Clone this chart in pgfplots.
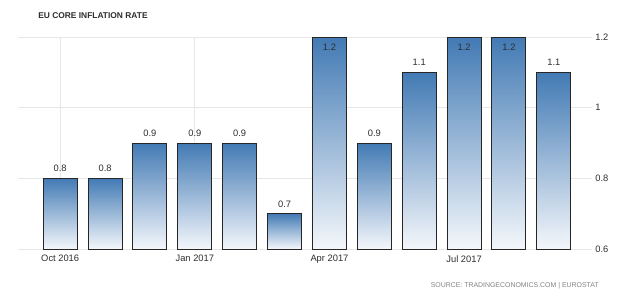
\documentclass[border=0pt]{standalone}
\usepackage{fontspec}
\setmainfont{Liberation Sans}
\usepackage{pgfplots}
\pgfplotsset{compat=1.18}
\definecolor{barblue}{RGB}{66,122,180}
\definecolor{barlight}{RGB}{244,247,251}
\definecolor{gridgray}{RGB}{230,230,230}
\definecolor{txt}{RGB}{45,45,45}
\definecolor{srcgray}{RGB}{130,130,130}
\pgfplotsset{
  mybar/.style={ybar, bar width=25.5pt, bar shift=0pt, draw=black!85, line width=0.75pt,
    top color=barblue, bottom color=barlight,
    nodes near coords={\pgfmathprintnumber[fixed,fixed zerofill,precision=1,assume math mode=true]{\pgfplotspointmeta}},
    point meta=y,
    every node near coord/.append style={font=\fontsize{7}{8}\selectfont, text=txt, inner sep=4.5pt},
  },
  topbar/.style={mybar, every node near coord/.append style={anchor=north}},
}
\begin{document}
\begin{tikzpicture}
\path[use as bounding box] (0pt,0pt) rectangle (480pt,223.5pt);
\begin{axis}[
  at={(13.5pt,36.75pt)}, anchor=south west,
  scale only axis, width=430.5pt, height=159pt,
  xmin=-0.94, xmax=11.85, ymin=0.6, ymax=1.2,
  axis line style={draw=none},
  major tick length=0pt,
  grid=major, grid style={gridgray, line width=0.75pt},
  xtick={0,3,6,9},
  xticklabels={Oct 2016, Jan 2017, Apr 2017, Jul 2017},
  ytick={0.6,0.8,1,1.2},
  yticklabels={0.6,0.8,1,1.2},
  yticklabel pos=right,
  tick label style={font=\fontsize{7}{8}\selectfont, text=txt},
  yticklabel style={anchor=west, inner sep=0pt, xshift=2.3pt},
  xticklabel style={anchor=north, inner sep=0pt, yshift=-4.5pt},
  clip=false,
]
\addplot[mybar] coordinates {(0,0.8)};
\addplot[mybar] coordinates {(1,0.8)};
\addplot[mybar] coordinates {(2,0.9)};
\addplot[mybar] coordinates {(3,0.9)};
\addplot[mybar] coordinates {(4,0.9)};
\addplot[mybar] coordinates {(5,0.7)};
\addplot[topbar] coordinates {(6,1.2)};
\addplot[mybar] coordinates {(7,0.9)};
\addplot[mybar] coordinates {(8,1.1)};
\addplot[topbar] coordinates {(9,1.2)};
\addplot[topbar] coordinates {(10,1.2)};
\addplot[mybar] coordinates {(11,1.1)};
\end{axis}
\node[anchor=west, font=\bfseries\fontsize{6.3}{7}\selectfont, text=txt, inner sep=0pt] at (28.5pt,211.5pt) {EU CORE INFLATION RATE};
\node[anchor=east, font=\fontsize{5.2}{6}\selectfont, text=srcgray, inner sep=0pt] at (449.25pt,9.2pt) {SOURCE: TRADINGECONOMICS.COM | EUROSTAT};
\end{tikzpicture}
\end{document}
